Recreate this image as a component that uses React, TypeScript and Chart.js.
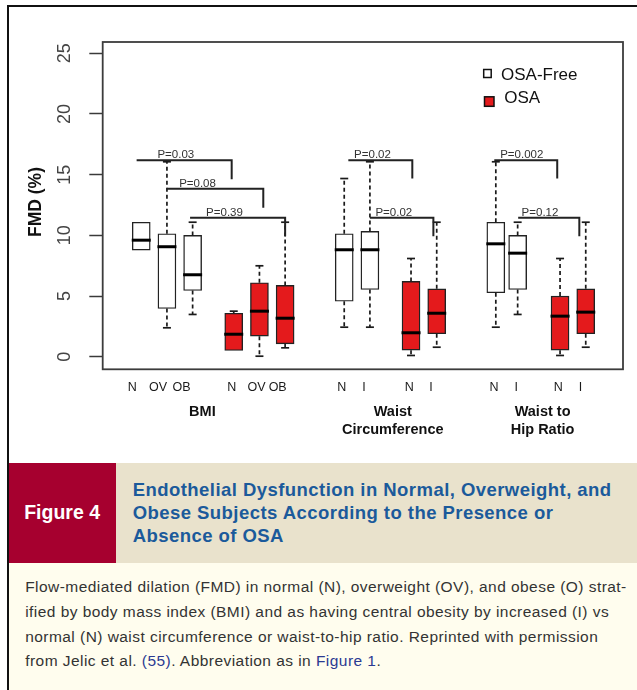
import React, { useEffect, useRef } from "react";
import { Chart, registerables } from "chart.js";

Chart.register(...registerables);

// ---------- data ----------
const SERIES_LABELS = ["OSA-Free", "OSA"];

const FREE_POS = [1, 2, 3, 8.9, 9.9, 14.8, 15.65];
const FREE_LOW = [8.78, 2.38, 3.48, 2.43, 2.43, 2.43, 3.48];
const FREE_Q1 = [8.78, 3.97, 5.45, 4.57, 5.54, 5.27, 5.54];
const FREE_MED = [9.6, 9.06, 6.75, 8.81, 8.81, 9.3, 8.53];
const FREE_Q3 = [11.08, 10.13, 9.99, 10.13, 10.32, 11.08, 9.99];
const FREE_HIGH = [11.08, 16.06, 11.08, 14.68, 16.06, 16.06, 11.08];

const OSA_POS = [4.6, 5.6, 6.6, 11.5, 12.5, 17.3, 18.3];
const OSA_LOW = [0.51, 0.04, 0.73, 0.1, 0.78, 0.1, 0.78];
const OSA_Q1 = [0.51, 1.69, 1.06, 0.54, 1.89, 0.54, 1.89];
const OSA_MED = [1.85, 3.75, 3.17, 1.97, 3.58, 3.34, 3.67];
const OSA_Q3 = [3.58, 6.09, 5.87, 6.2, 5.59, 4.99, 5.59];
const OSA_HIGH = [3.75, 7.49, 11.08, 8.09, 11.08, 8.09, 11.08];

const X_TICK_POS = [0.65, 1.65, 2.57, 4.52, 5.49, 6.31, 8.8, 9.67, 11.43, 12.28, 14.73, 15.59, 17.23, 18.1];
const X_TICK_LABELS = ["N", "OV", "OB", "N", "OV", "OB", "N", "I", "N", "I", "N", "I", "N", "I"];
const Y_TICKS = [0, 5, 10, 15, 20, 25];

const GROUP_TITLES = [["BMI"], ["Waist", "Circumference"], ["Waist to", "Hip Ratio"]];
const GROUP_POS = [3.38, 10.79, 16.62];

const P_LABELS = ["P=0.03", "P=0.08", "P=0.39", "P=0.02", "P=0.02", "P=0.002", "P=0.12"];
const P_START = [0.82, 1.99, 2.9, 9.06, 9.9, 14.74, 15.67];
const P_END = [4.52, 5.75, 6.6, 11.55, 12.37, 17.19, 18.05];
const P_LEVEL = [16.19, 13.83, 11.45, 16.19, 11.45, 16.19, 11.45];
const P_DROP = [14.63, 12.27, 9.93, 14.68, 9.93, 14.68, 9.93];
const P_TEXT_POS = [2.345, 3.19, 4.24, 10.0, 10.83, 15.81, 16.52];

const SERIES = [
  { pos: FREE_POS, low: FREE_LOW, q1: FREE_Q1, med: FREE_MED, q3: FREE_Q3, high: FREE_HIGH },
  { pos: OSA_POS, low: OSA_LOW, q1: OSA_Q1, med: OSA_MED, q3: OSA_Q3, high: OSA_HIGH },
];

const FONT = "'Liberation Sans', Arial, Helvetica, sans-serif";
const INK = "#1a1a1a";

const boxExtras = {
  id: "boxExtras",
  afterDatasetsDraw(chart: any) {
    const { ctx, scales } = chart;
    const x = scales.x;
    const y = scales.y;
    ctx.save();
    SERIES.forEach((s, di) => {
      const meta = chart.getDatasetMeta(di);
      s.pos.forEach((p, i) => {
        const el = meta.data[i];
        const half = el ? el.width / 2 : 9;
        const cx = x.getPixelForValue(p);
        const yq1 = y.getPixelForValue(s.q1[i]);
        const yq3 = y.getPixelForValue(s.q3[i]);
        const yl = y.getPixelForValue(s.low[i]);
        const yh = y.getPixelForValue(s.high[i]);
        ctx.strokeStyle = INK;
        ctx.lineWidth = 1.7;
        ctx.setLineDash([4, 3]);
        if (s.high[i] > s.q3[i]) {
          ctx.beginPath();
          ctx.moveTo(cx, yq3);
          ctx.lineTo(cx, yh);
          ctx.stroke();
        }
        if (s.low[i] < s.q1[i]) {
          ctx.beginPath();
          ctx.moveTo(cx, yq1);
          ctx.lineTo(cx, yl);
          ctx.stroke();
        }
        ctx.setLineDash([]);
        ctx.lineWidth = 1.7;
        if (s.high[i] > s.q3[i]) {
          ctx.beginPath();
          ctx.moveTo(cx - 4, yh);
          ctx.lineTo(cx + 4, yh);
          ctx.stroke();
        }
        if (s.low[i] < s.q1[i]) {
          ctx.beginPath();
          ctx.moveTo(cx - 4, yl);
          ctx.lineTo(cx + 4, yl);
          ctx.stroke();
        }
        // median
        const ym = y.getPixelForValue(s.med[i]);
        ctx.strokeStyle = "#000";
        ctx.lineWidth = 3;
        ctx.beginPath();
        ctx.moveTo(cx - half - 0.5, ym);
        ctx.lineTo(cx + half + 0.5, ym);
        ctx.stroke();
      });
    });
    ctx.restore();
  },
  afterDraw(chart: any) {
    const { ctx, chartArea, scales } = chart;
    const x = scales.x;
    const y = scales.y;
    ctx.save();
    // plot frame
    ctx.strokeStyle = "#3c3c3c";
    ctx.lineWidth = 1.8;
    ctx.strokeRect(chartArea.left, chartArea.top, chartArea.right - chartArea.left, chartArea.bottom - chartArea.top);

    // rotated y tick labels
    ctx.fillStyle = "#444";
    ctx.font = `18px ${FONT}`;
    ctx.textAlign = "center";
    ctx.textBaseline = "middle";
    y.ticks.forEach((t: any) => {
      ctx.save();
      ctx.translate(chartArea.left - 37.7, y.getPixelForValue(t.value));
      ctx.rotate(-Math.PI / 2);
      ctx.fillText(String(t.value), 0, 0);
      ctx.restore();
    });

    // y axis title
    ctx.save();
    ctx.fillStyle = "#111";
    ctx.font = `bold 17.5px ${FONT}`;
    ctx.translate(chartArea.left - 66.7, chartArea.top + 160);
    ctx.rotate(-Math.PI / 2);
    ctx.fillText("FMD (%)", 0, 0);
    ctx.restore();

    // group titles
    ctx.fillStyle = "#111";
    ctx.font = `bold 14.5px ${FONT}`;
    ctx.textAlign = "center";
    ctx.textBaseline = "middle";
    GROUP_TITLES.forEach((lines, gi) => {
      const gx = x.getPixelForValue(GROUP_POS[gi]);
      lines.forEach((ln, li) => {
        ctx.fillText(ln, gx, chartArea.bottom + 42.4 + li * 18.3);
      });
    });

    // p-value brackets
    ctx.strokeStyle = "#222";
    ctx.lineWidth = 2;
    P_LABELS.forEach((lab, i) => {
      const x1 = x.getPixelForValue(P_START[i]);
      const x2 = x.getPixelForValue(P_END[i]);
      const yl = y.getPixelForValue(P_LEVEL[i]);
      const yd = y.getPixelForValue(P_DROP[i]);
      ctx.beginPath();
      ctx.moveTo(x1, yl);
      ctx.lineTo(x2, yl);
      ctx.lineTo(x2, yd);
      ctx.stroke();
      ctx.fillStyle = "#333";
      ctx.font = `11.5px ${FONT}`;
      ctx.textAlign = "center";
      ctx.textBaseline = "alphabetic";
      ctx.fillText(lab, x.getPixelForValue(P_TEXT_POS[i]), yl - 2);
    });

    // legend
    const ds = chart.data.datasets;
    const lx = chartArea.left;
    const ly = chartArea.top;
    ctx.lineWidth = 1.5;
    ctx.strokeStyle = "#111";
    ctx.fillStyle = ds[0].backgroundColor;
    ctx.fillRect(lx + 381, ly + 27.5, 7.5, 8);
    ctx.strokeRect(lx + 381, ly + 27.5, 7.5, 8);
    ctx.fillStyle = ds[1].backgroundColor;
    ctx.fillRect(lx + 381.8, ly + 54.8, 9.5, 9.5);
    ctx.strokeRect(lx + 381.8, ly + 54.8, 9.5, 9.5);
    ctx.fillStyle = "#111";
    ctx.font = `17px ${FONT}`;
    ctx.textAlign = "left";
    ctx.textBaseline = "middle";
    ctx.fillText(ds[0].label, lx + 398.3, ly + 33);
    ctx.fillText(ds[1].label, lx + 401.6, ly + 56.3);
    ctx.restore();
  },
};

function BoxChart() {
  const ref = useRef<HTMLCanvasElement | null>(null);
  useEffect(() => {
    if (!ref.current) return;
    const mk = (s: any) => s.pos.map((p: number, i: number) => ({ x: p, y: [s.q1[i], s.q3[i]] }));
    const chart = new Chart(ref.current, {
      type: "bar",
      data: {
        datasets: [
          {
            label: SERIES_LABELS[0],
            data: mk(SERIES[0]),
            backgroundColor: "#ffffff",
            borderColor: "#222",
            borderWidth: 1.4,
            borderSkipped: false,
            barThickness: 18,
            maxBarThickness: 18,
            grouped: false,
          } as any,
          {
            label: SERIES_LABELS[1],
            data: mk(SERIES[1]),
            backgroundColor: "#e41a1c",
            borderColor: "#222",
            borderWidth: 1.4,
            borderSkipped: false,
            barThickness: 18,
            maxBarThickness: 18,
            grouped: false,
          } as any,
        ],
      },
      options: {
        animation: false,
        responsive: true,
        maintainAspectRatio: false,
        layout: { padding: { left: 89.3, right: 14, top: 42, bottom: 0 } },
        plugins: { legend: { display: false }, tooltip: { enabled: false } },
        scales: {
          x: {
            type: "linear",
            min: -0.5,
            max: 19.75,
            offset: false,
            afterBuildTicks: (s: any) => {
              s.ticks = X_TICK_POS.map((v) => ({ value: v }));
            },
            afterFit: (s: any) => {
              s.height = 92.7;
            },
            grid: { display: false, drawTicks: false },
            border: { display: false },
            ticks: {
              autoSkip: false,
              maxRotation: 0,
              minRotation: 0,
              padding: 11,
              color: "#1a1a1a",
              font: { size: 12.5, family: FONT },
              callback: (_v: any, i: number) => X_TICK_LABELS[i],
            },
          },
          y: {
            type: "linear",
            min: -1.04,
            max: 25.93,
            afterBuildTicks: (s: any) => {
              s.ticks = Y_TICKS.map((v) => ({ value: v }));
            },
            afterFit: (s: any) => {
              s.width = 13.4;
            },
            grid: {
              display: true,
              drawOnChartArea: false,
              drawTicks: true,
              tickLength: 13.4,
              tickColor: "#3a3a3a",
              tickWidth: 1.5,
            },
            border: { display: false },
            ticks: { display: false },
          },
        },
      } as any,
      plugins: [boxExtras],
    });
    return () => chart.destroy();
  }, []);
  return <canvas ref={ref} />;
}

export default function App() {
  useEffect(() => {
    document.body.style.margin = "0";
  }, []);
  if (typeof document !== "undefined") document.body.style.margin = "0";
  return (
    <div style={{ position: "relative", width: 637, height: 690, background: "#fff", fontFamily: FONT, overflow: "hidden" }}>
      <div
        style={{
          position: "absolute",
          left: 6.5,
          top: 5,
          right: 0,
          bottom: 0,
          borderTop: "2px solid #111",
          borderLeft: "2px solid #111",
        }}
      />
      <div style={{ position: "absolute", left: 0, top: 0, width: 637, height: 462 }}>
        <BoxChart />
      </div>
      <div style={{ position: "absolute", left: 8.5, top: 462.7, right: 0, height: 100, display: "flex" }}>
        <div
          style={{
            width: 107.2,
            background: "#a6002f",
            color: "#fff",
            display: "flex",
            alignItems: "center",
            justifyContent: "center",
            fontWeight: "bold",
            fontSize: 19.5,
          }}
        >
          Figure 4
        </div>
        <div style={{ flex: 1, background: "#e9e2cc", display: "flex", alignItems: "center", paddingLeft: 17 }}>
          <div
            style={{
              color: "#1b5a9b",
              fontWeight: "bold",
              fontSize: 18.5,
              lineHeight: "23.3px",
              letterSpacing: 0.45,
              whiteSpace: "nowrap",
            }}
          >
            Endothelial Dysfunction in Normal, Overweight, and
            <br />
            Obese Subjects According to the Presence or
            <br />
            Absence of OSA
          </div>
        </div>
      </div>
      <div
        style={{
          position: "absolute",
          left: 8.5,
          top: 562.7,
          right: 0,
          bottom: 0,
          background: "#fffdee",
          paddingLeft: 16.7,
          paddingTop: 12.7,
          fontSize: 15.5,
          lineHeight: "24.6px",
          letterSpacing: 0.45,
          color: "#333",
          whiteSpace: "nowrap",
          boxSizing: "border-box",
        }}
      >
        Flow-mediated dilation (FMD) in normal (N), overweight (OV), and obese (O) strat-
        <br />
        ified by body mass index (BMI) and as having central obesity by increased (I) vs
        <br />
        normal (N) waist circumference or waist-to-hip ratio. Reprinted with permission
        <br />
        from Jelic et al. <span style={{ color: "#2b3a92" }}>(55)</span>. Abbreviation as in{" "}
        <span style={{ color: "#2b3a92" }}>Figure 1</span>.
      </div>
    </div>
  );
}
